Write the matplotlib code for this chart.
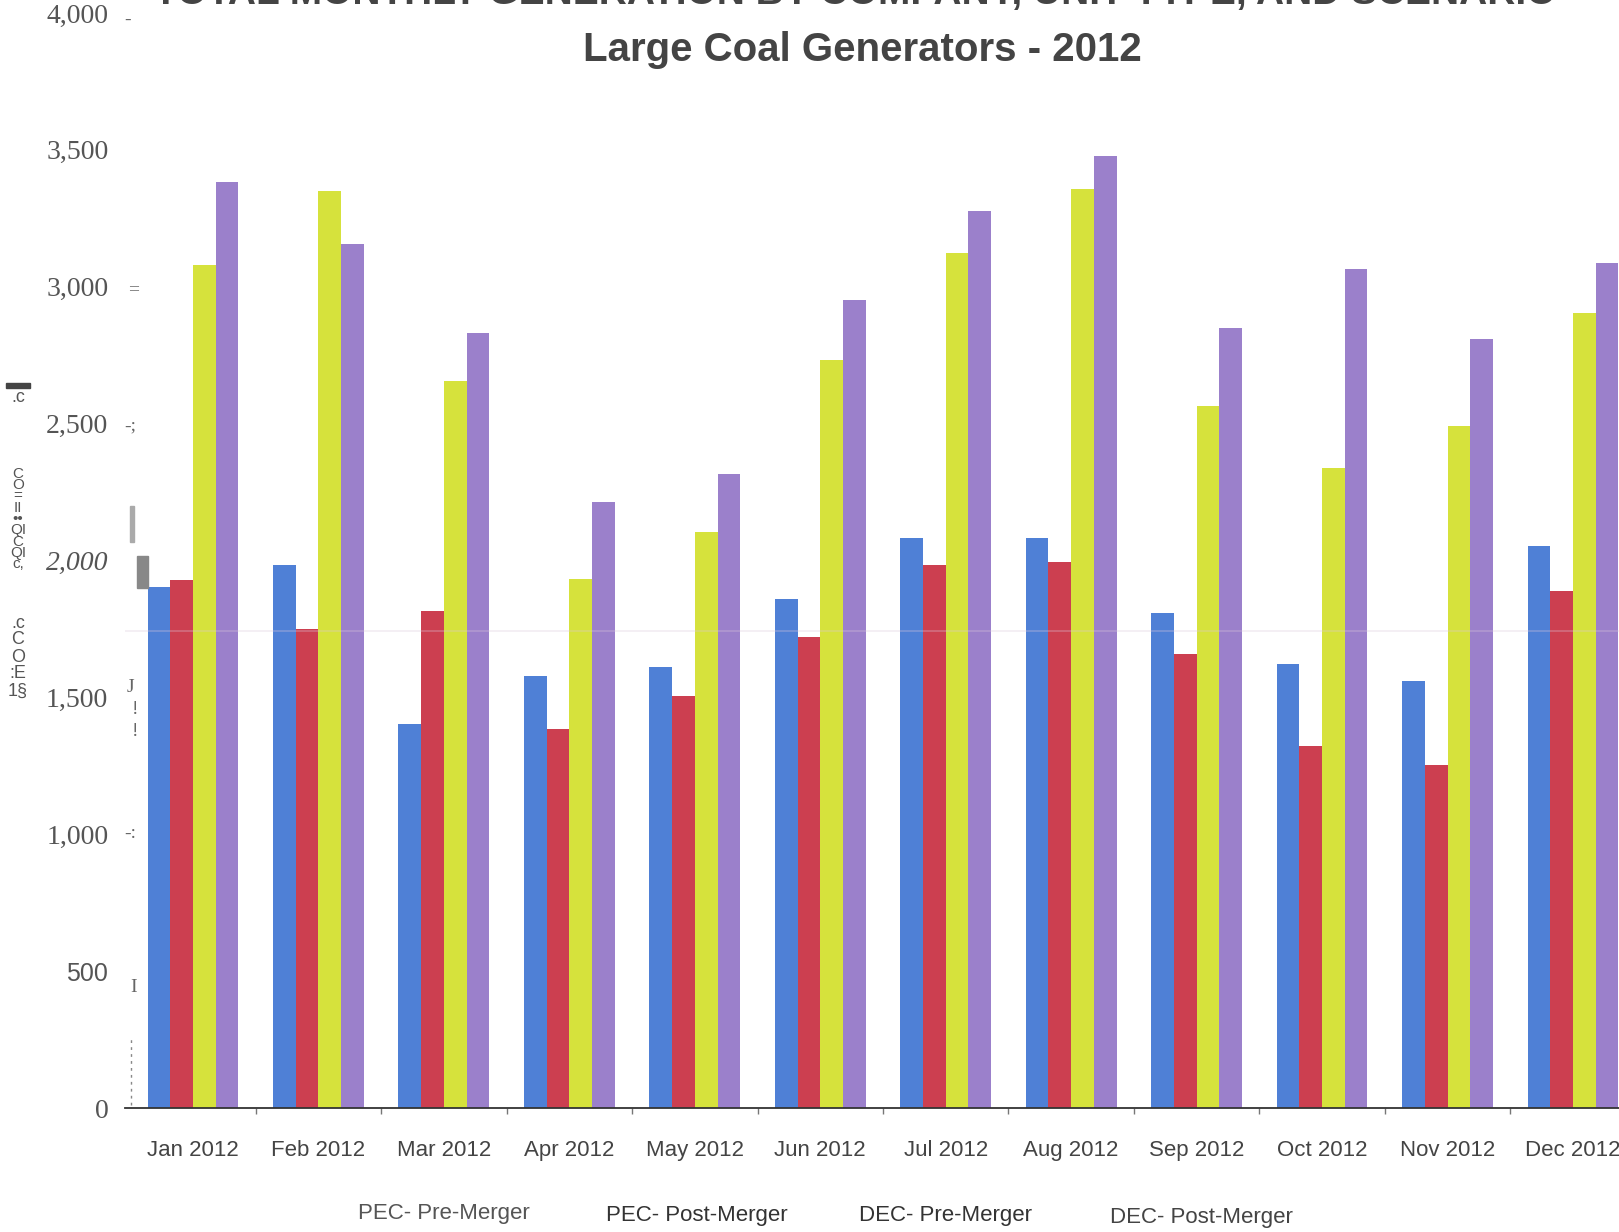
import matplotlib
matplotlib.use("Agg")
import matplotlib.pyplot as plt
from matplotlib.patches import Rectangle
import numpy as np

# ---- data -------------------------------------------------------------
months = ["Jan 2012", "Feb 2012", "Mar 2012", "Apr 2012", "May 2012", "Jun 2012",
          "Jul 2012", "Aug 2012", "Sep 2012", "Oct 2012", "Nov 2012", "Dec 2012"]
series_names = ["PEC- Pre-Merger", "PEC- Post-Merger", "DEC- Pre-Merger", "DEC- Post-Merger"]
pec_pre = [1905, 1984, 1403, 1577, 1610, 1859, 2082, 2082, 1807, 1622, 1558, 2052]
pec_post = [1927, 1750, 1814, 1384, 1505, 1720, 1984, 1995, 1660, 1324, 1252, 1890]
dec_pre = [3081, 3349, 2655, 1931, 2105, 2734, 3123, 3357, 2565, 2338, 2493, 2904]
dec_post = [3383, 3157, 2832, 2214, 2316, 2953, 3278, 3477, 2848, 3066, 2810, 3085]
y_ticks = [0, 500, 1000, 1500, 2000, 2500, 3000, 3500, 4000]
y_tick_labels = ["0", "500", "1,000", "1,500", "2,000", "2,500", "3,000", "3,500", "4,000"]

colors = ["#4f80d6", "#cc3f50", "#d6e23c", "#9b80cb"]

# ---- figure -----------------------------------------------------------
W, H = 1619, 1232
fig = plt.figure(figsize=(W / 100, H / 100), dpi=100)
fig.patch.set_facecolor("white")


def fx(x):
    return x / W


def fy(y):
    return 1 - y / H


narrow = ["Liberation Sans Narrow", "Liberation Sans", "DejaVu Sans"]
serif = ["Liberation Serif", "DejaVu Serif"]
sans = ["Liberation Sans", "DejaVu Sans"]

ax = fig.add_axes([fx(125), fy(1108), 1 - fx(125), fy(13) - fy(1108)])
ax.set_facecolor("white")

x = np.arange(len(months))
bw = 0.181
all_series = [pec_pre, pec_post, dec_pre, dec_post]
for k, (vals, col) in enumerate(zip(all_series, colors)):
    ax.bar(x + (k - 1.5) * bw, vals, width=bw, color=col, edgecolor="none",
           label=series_names[k], zorder=2)

# faint horizontal streak across the plot
ax.axhline(1741, color="#dcc8da", lw=1.2, alpha=0.35, zorder=3)

ax.set_xlim(-0.542, 11.367)
ax.set_ylim(0, 4000)

for s in ["top", "right", "left"]:
    ax.spines[s].set_visible(False)
ax.spines["bottom"].set_color("#333333")
ax.spines["bottom"].set_linewidth(1.3)

ax.set_yticks(y_ticks)
ax.set_yticklabels(y_tick_labels, fontfamily=serif, fontsize=20, color="#555555")
ax.tick_params(axis="y", length=0, pad=12)
for lbl in ax.get_yticklabels():
    if lbl.get_text() == "2,000":
        lbl.set_fontstyle("italic")
    if lbl.get_text() == "500":
        lbl.set_fontfamily(sans)
        lbl.set_fontsize(18)

ax.set_xticks(x)
ax.set_xticklabels(months, fontfamily=narrow, fontsize=16, color="#444444")
ax.tick_params(axis="x", length=0, pad=23)
ax.set_xticks(x[:-1] + 0.5, minor=True)
ax.tick_params(axis="x", which="minor", length=4, width=1, color="#777777")

# ---- titles -----------------------------------------------------------
fig.text(fx(855), fy(4), "TOTAL MONTHLY GENERATION BY COMPANY, UNIT TYPE, AND SCENARIO",
         ha="center", va="baseline", fontfamily=sans, fontweight="bold",
         fontsize=28, color="#444444")
fig.text(fx(862), fy(50), "Large Coal Generators - 2012", ha="center", va="center",
         fontfamily=narrow, fontweight="bold", fontsize=29, color="#444444")

# ---- legend labels ----------------------------------------------------
legend_pos = [(444, 1213), (697, 1215), (945, 1216), (1201, 1218)]
legend_cols = ["#555555", "#333333", "#333333", "#444444"]
for name, (lx, ly), c in zip(series_names, legend_pos, legend_cols):
    fig.text(fx(lx), fy(ly), name, ha="center", va="center", fontfamily=narrow,
             fontsize=16, color=c)

# ---- vertical axis caption (broken-up glyphs) -------------------------
fig.add_artist(Rectangle((fx(6), fy(388)), fx(24), 5 / H, transform=fig.transFigure,
                         color="#444444"))
fig.text(fx(18), fy(397), ".c", ha="center", va="center", fontfamily=sans,
         fontsize=13, color="#555555")
fig.text(fx(18), fy(519), "C\nO\n=\nII\n••\nQI\nC\nQI\nc,", ha="center", va="center",
         fontfamily=sans, fontsize=11, color="#555555", linespacing=0.76)
fig.text(fx(18), fy(657), ".c\nC\nO\n:E\n1§", ha="center", va="center",
         fontfamily=sans, fontsize=13, color="#555555", linespacing=1.0)

# ---- tick-mark remnants beside the value axis --------------------------
marks = [("-", 128, 20), ("=", 134, 290), ("-;", 130, 426), ("J", 130, 687),
         ("!", 135, 710), ("!", 135, 731), ("-:", 130, 834), ("I", 134, 988)]
for tok, mx, my in marks:
    fig.text(fx(mx), fy(my), tok, ha="center", va="center", fontfamily=serif,
             fontsize=14, color="#666666")
fig.add_artist(Rectangle((fx(130), fy(542)), 4 / W, 36 / H, transform=fig.transFigure,
                         color="#aaaaaa"))
fig.add_artist(Rectangle((fx(137), fy(588)), 11 / W, 32 / H, transform=fig.transFigure,
                         color="#888888"))
fig.add_artist(plt.Line2D([fx(131), fx(131)], [fy(1105), fy(1037)],
                          transform=fig.transFigure, color="#888888", lw=1,
                          linestyle=(0, (2, 3))))

fig.savefig("out.png", dpi=100, facecolor="white")
